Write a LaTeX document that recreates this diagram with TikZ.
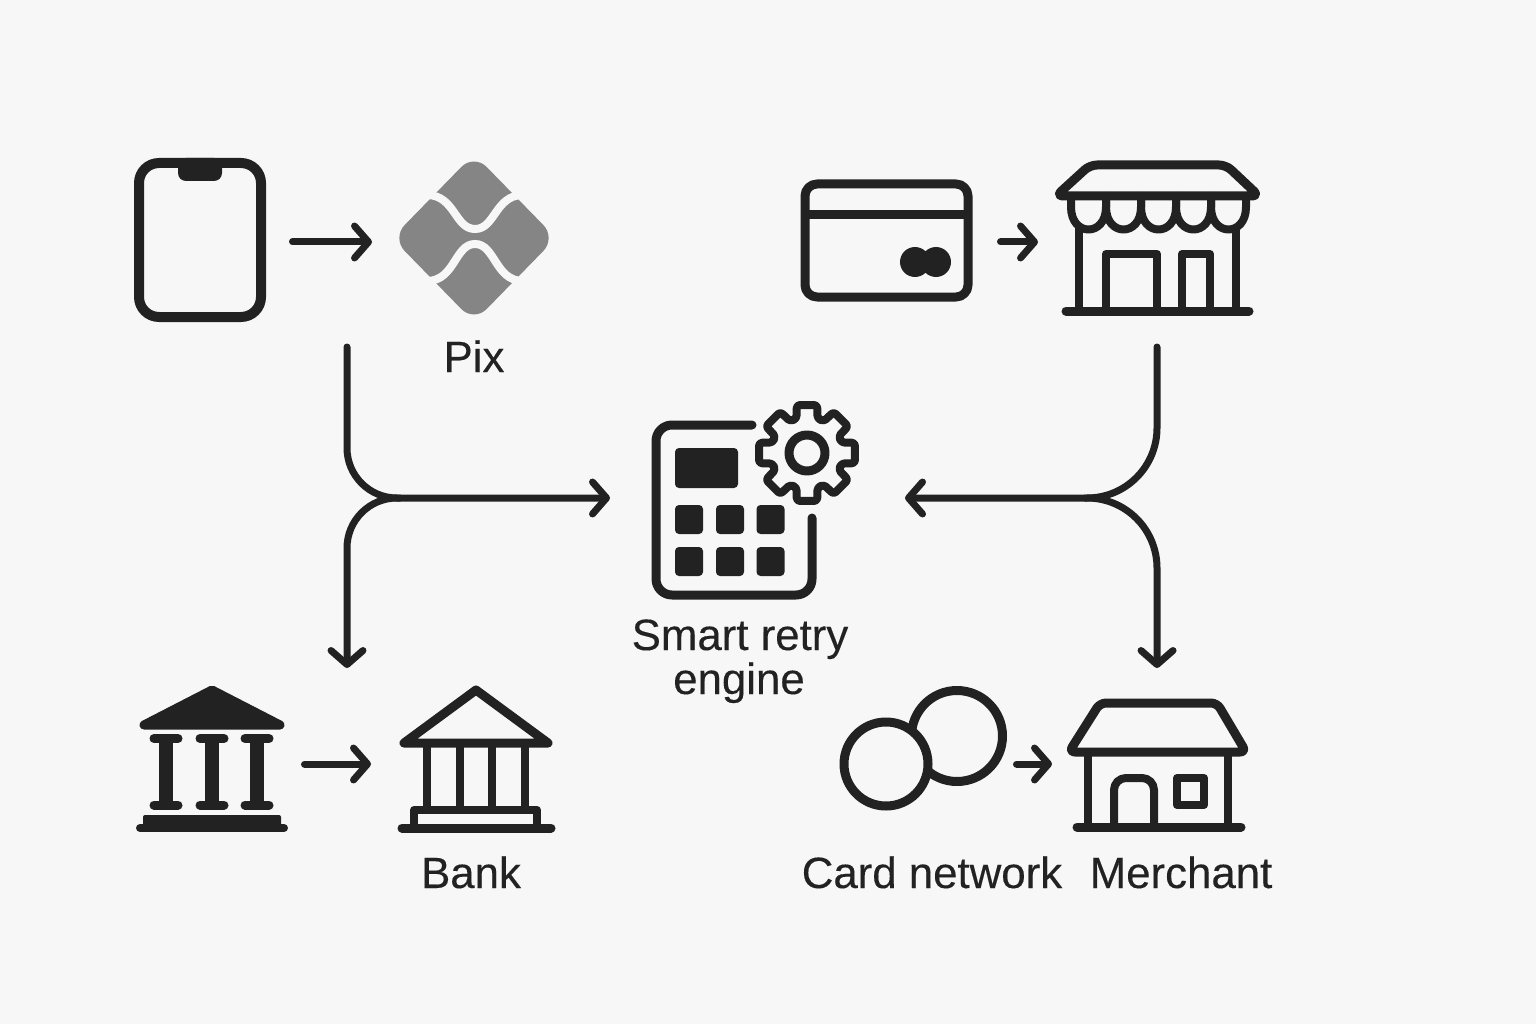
\documentclass[tikz,border=0pt]{standalone}
\usepackage{fontspec}
\setmainfont{Liberation Sans}
\newfontfamily\capfont{Liberation Sans}[FakeBold=0.25]
\usepackage{xcolor}
\definecolor{mybg}{HTML}{F7F7F7}
\definecolor{myink}{HTML}{222222}
\definecolor{mypix}{HTML}{858585}
\usetikzlibrary{positioning}
\usetikzlibrary{arrows.meta}
\tikzstyle{iconbox} = [rectangle, inner sep=0pt, outer sep=0pt]
\tikzstyle{caption} = [inner sep=0pt, anchor=base, align=center, text=myink, font=\capfont\fontsize{43.8}{44}\selectfont]
\tikzstyle{line} = [draw=myink, line width=9pt, line cap=round, line join=round]
\tikzstyle{thin} = [draw=myink, line width=8pt, line cap=round, line join=round]
\tikzstyle{solid} = [fill=myink, rounded corners=4pt]
\tikzstyle{inout} = [draw=myink, line width=7pt, line cap=round, -{Straight Barb[length=14pt,width=32pt,round]}]
\begin{document}
\begin{tikzpicture}[x=1pt,y=-1pt]
	\fill[mybg] (0,0) rectangle (1536,1024);
	\useasboundingbox (0,0) rectangle (1536,1024);
	\node (phone)[iconbox, minimum width=132pt, minimum height=164pt] at (200,242){};
	\node (pix)[iconbox, minimum width=148pt, minimum height=152pt] at (474,242){};
	\node (card)[iconbox, minimum width=173pt, minimum height=123pt] at (886.5,242){};
	\node (store)[iconbox, minimum width=200pt, minimum height=155pt] at (1157,242){};
	\node (engine)[iconbox, minimum width=207pt, minimum height=200pt] at (755.5,498){};
	\node (columns)[iconbox, minimum width=152pt, minimum height=146pt] at (212,764){};
	\node (bank)[iconbox, minimum width=156pt, minimum height=146pt] at (476,764){};
	\node (coins)[iconbox, minimum width=167pt, minimum height=124pt] at (923.5,764){};
	\node (merchant)[iconbox, minimum width=178pt, minimum height=130pt] at (1157,764){};
	\node (pixlabel)[caption] at (474,372){Pix};
	\node (enginelabel)[caption] at (740,650){Smart retry};
	\node (enginelabel2)[caption] at (739,694){engine};
	\node (banklabel)[caption] at (471,888){Bank};
	\node (cardlabel)[caption] at (932,888){Card network};
	\node (merchantlabel)[caption] at (1181,888){Merchant};
	\coordinate (leftstart) at (347,347);
	\coordinate (leftjoin) at (400,498);
	\coordinate (leftend) at (347,668);
	\coordinate (rightstart) at (1157,347);
	\coordinate (rightjoin) at (1085,498);
	\coordinate (rightend) at (1157,668);
	\draw [line, line width=10pt, rounded corners=20pt] (139,163) rectangle (261,317);
	\fill [myink, rounded corners=8pt] (178,158) -- (178,181) -- (222,181) -- (222,158) -- cycle;
	\fill [mypix, rounded corners=18pt] (474,154) -- (556,238) -- (474,322) -- (392,238) -- cycle;
	\draw [mybg, line width=8pt] (428,195) .. controls (455,196) and (455,229) .. (475,229) .. controls (495,229) and (495,196) .. (522,195);
	\draw [mybg, line width=8pt] (428,281) .. controls (455,280) and (455,244) .. (475,244) .. controls (495,244) and (495,280) .. (522,281);
	\draw [line, rounded corners=12pt] (805,184) rectangle (968,297);
	\draw [line, line cap=butt] (805,215) -- (968,215);
	\fill [myink] (915,262) circle (15pt) (936,262) circle (15pt);
	\draw [line, rounded corners=7pt] (1056,196) -- (1090,165) -- (1226,165) -- (1259,196) -- cycle;
	\foreach \x in {1071,1106,1141,1176,1211}{
		\draw [thin] (\x,196) -- (\x,207) .. controls (\x,237) and (\x+35,237) .. (\x+35,207) -- (\x+35,196);
	}
	\draw [thin] (1079,228) -- (1079,311);
	\draw [thin] (1236,228) -- (1236,311);
	\draw [line] (1066,311) -- (1249,311);
	\draw [thin] (1106,311) -- (1106,254) -- (1157,254) -- (1157,311);
	\draw [thin] (1182,311) -- (1182,254) -- (1210,254) -- (1210,311);
	\draw [line, rounded corners=16pt] (752,425) -- (656,425) -- (656,595) -- (812,595) -- (812,518);
	\fill [solid] (675,448) rectangle (738,488);
	\foreach \x in {689,730,770.5}{
		\foreach \y in {519.5,561.5}{
			\fill [solid] (\x-14,\y-14.5) rectangle (\x+14,\y+14.5);
		}
	}
	\draw [thin, shift={(807,453)}, rounded corners=3pt] (-12:49)
		\foreach \a in {0,45,...,270}{ -- (\a+12:49) -- (\a+17:36) -- (\a+28:36) -- (\a+33:49) }
		-- (327:49) -- (332:36) -- (343:36) -- cycle;
	\draw [line] (807,453) circle (18pt);
	\draw [line, fill=myink] (144,725) -- (212,690) -- (280,725) -- cycle;
	\foreach \x in {166,212,257}{
		\draw [line] (\x-12,738.5) -- (\x+12,738.5);
		\draw [line] (\x-12,805) -- (\x+12,805);
		\draw [line, line width=14pt, line cap=butt] (\x,738) -- (\x,805);
	}
	\fill [myink, rounded corners=2pt] (143,815) rectangle (281,828);
	\draw [line, line width=8pt] (140,828) -- (284,828);
	\draw [line] (404,743) -- (476,690) -- (548,743) -- cycle;
	\foreach \x in {427,460,492,525}{
		\draw [thin, line cap=butt] (\x,743) -- (\x,810);
	}
	\draw [thin] (414,828) -- (414,810) -- (537,810) -- (537,828);
	\draw [line] (402,828) -- (551,828);
	\draw [line] (957,736) circle (45.5pt);
	\draw [line, fill=mybg] (886,764) circle (42pt);
	\draw [line, rounded corners=6pt] (1069,752) -- (1100,703) -- (1217,703) -- (1246,752) -- cycle;
	\draw [thin] (1088,752) -- (1088,827);
	\draw [thin] (1228,752) -- (1228,827);
	\draw [line] (1077,827) -- (1241,827);
	\draw [thin, rounded corners=12pt] (1114,827) -- (1114,778) -- (1154,778) -- (1154,827);
	\draw [thin] (1177,778) rectangle (1204,805);
	\draw [inout, shorten <=26.5pt, shorten >=28pt] (phone) -- (pix);
	\draw [inout, shorten <=27.5pt, shorten >=19pt] (card) -- (store);
	\draw [inout, shorten <=16.5pt, shorten >=27pt] (columns) -- (bank);
	\draw [inout, shorten <=9.5pt, shorten >=16pt] (coins) -- (merchant);
	\draw [inout, rounded corners=50pt, shorten >=42pt] (leftstart) |- (engine.west);
	\draw [inout, rounded corners=50pt] (leftjoin) -| (leftend);
	\draw [inout, rounded corners=70pt, shorten >=46pt] (rightstart) |- (engine.east);
	\draw [inout, rounded corners=70pt] (rightjoin) -| (rightend);
\end{tikzpicture}
\end{document}
